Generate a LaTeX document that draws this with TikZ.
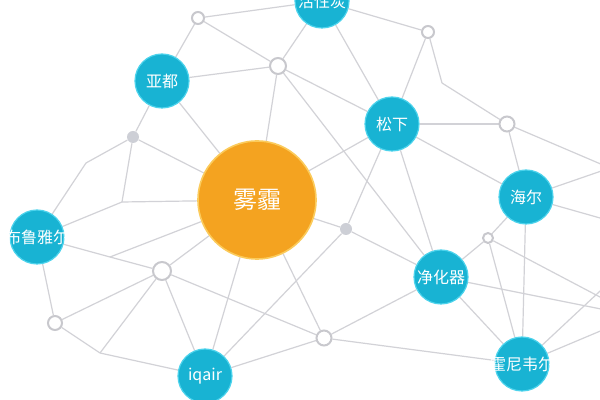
\documentclass[tikz,border=0pt]{standalone}
\usepackage{fontspec}
\newfontfamily\cjk{Noto Sans CJK SC}
\usepackage{xcolor}
\usetikzlibrary{backgrounds}
\definecolor{brandblue}{HTML}{18B3D3}
\definecolor{brandring}{HTML}{4CD3EC}
\definecolor{hazeorange}{HTML}{F4A320}
\definecolor{hazering}{HTML}{FBCB5C}
\definecolor{linkgray}{HTML}{D2D2D7}
\definecolor{hubgray}{HTML}{C8C8CD}
\definecolor{dotgray}{HTML}{CDCFD6}

\begin{document}
\begin{tikzpicture}[
  x=0.5pt, y=-0.5pt,
  brand/.style={circle, inner sep=0pt, minimum size=27pt,
                fill=brandblue, draw=brandring, line width=0.6pt},
  topic/.style={circle, inner sep=0pt, minimum size=59pt,
                fill=hazeorange, draw=hazering, line width=0.8pt},
  hub/.style={circle, inner sep=0pt, fill=white, draw=hubgray, line width=1pt},
  dot/.style={circle, inner sep=0pt, minimum size=6pt, fill=dotgray},
  tag/.style={text=white, inner sep=0pt, font=\cjk\fontsize{8}{8}\selectfont},
  bigtag/.style={text=white, inner sep=0pt, font=\cjk\fontsize{12}{12}\selectfont},
  link/.style={draw=linkgray, line width=0.6pt},
]
\useasboundingbox (0,0) rectangle (600,400);
\clip (0,0) rectangle (600,400);

% keywords
\node[topic, label={[bigtag]center:雾霾}] (w) at (257,200) {};
\node[brand, label={[tag]center:亚都}] (yd) at (162,81) {};
\node[brand, label={[tag]center:活性炭}] (hx) at (322,1) {};
\node[brand, label={[tag]center:松下}] (sx) at (392,124) {};
\node[brand, label={[tag]center:海尔}] (he) at (526,197) {};
\node[brand, label={[tag]center:布鲁雅尔}] (bl) at (37,237) {};
\node[brand, label={[tag]center:净化器}] (jh) at (441,277) {};
\node[brand, label={[tag]center:iqair}] (iq) at (205,376) {};
\node[brand, label={[tag]center:霍尼韦尔}] (hn) at (522,364) {};

% small hubs
\node[hub, minimum size=6pt] (a1) at (198,18) {};
\node[hub, minimum size=8pt] (a2) at (278,66) {};
\node[hub, minimum size=6pt] (a3) at (428,32) {};
\node[hub, minimum size=7.5pt] (a4) at (507,124) {};
\node[hub, minimum size=9pt] (a5) at (162,271) {};
\node[hub, minimum size=7pt] (a6) at (55,323) {};
\node[hub, minimum size=7.5pt] (a7) at (324,338) {};
\node[hub, minimum size=5pt] (a8) at (488,238) {};
\node[dot] (f1) at (133,137) {};
\node[dot] (f2) at (346,229) {};

% bends and ends beyond the frame
\coordinate (b1) at (86,163);
\coordinate (b2) at (442,83);
\coordinate (b3) at (100,353);
\coordinate (b4) at (122,202);
\coordinate (b5) at (110,257);
\coordinate (oa) at (636,316);
\coordinate (ob) at (660,235);
\coordinate (oc) at (610,168);

\begin{scope}[on background layer]
\fill[white] (0,0) rectangle (600,400);
\foreach \a/\b in {hx/a1, hx/a2, hx/a3, hx/sx, a1/yd, a1/a2,
    a2/yd, a2/w, a2/sx, a2/jh, a3/sx, a3/b2, b2/a4,
    sx/a4, sx/he, sx/w, sx/f2, sx/jh, a4/he, a4/oc,
    he/hn, he/a8, he/oc, he/ob, yd/f1, yd/w,
    f1/w, f1/b1, f1/b4, b1/bl, b4/bl, b4/w,
    bl/b5, bl/a6, b5/a5, b5/w, a5/w, a5/a7, a5/a6, a5/b3, a5/iq,
    a6/b3, b3/iq, w/iq, w/a7, w/f2, iq/f2, iq/a7,
    a7/jh, a7/hn, f2/jh, jh/a8, jh/hn, jh/oa,
    a8/hn, a8/oa, hn/oa, hn/ob}
  \draw[link] (\a) -- (\b);
\end{scope}
\end{tikzpicture}
\end{document}
